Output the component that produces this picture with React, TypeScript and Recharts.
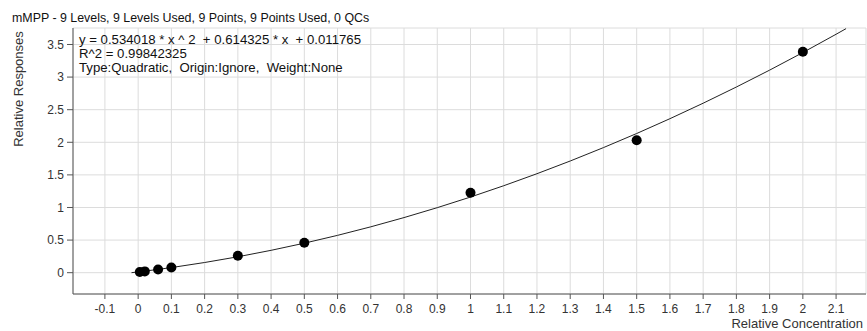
import { ComposedChart, Line, Scatter, XAxis, YAxis, CartesianGrid, Label } from "recharts"

// calibration levels (relative concentration) and measured relative responses
const levels = [0.005, 0.02, 0.06, 0.1, 0.3, 0.5, 1, 1.5, 2]
const responses = [0.01, 0.02, 0.05, 0.08, 0.26, 0.46, 1.225, 2.03, 3.39]

// quadratic fit curve
const curveX = [-0.02, 0, 0.1, 0.2, 0.3, 0.4, 0.5, 0.6, 0.7, 0.8, 0.9, 1, 1.1, 1.2, 1.3, 1.4, 1.5, 1.6, 1.7, 1.8, 1.9, 2, 2.1, 2.13]
const curveY = [0, 0.0118, 0.0785, 0.156, 0.2441, 0.3429, 0.4524, 0.5726, 0.7035, 0.845, 0.9972, 1.1601, 1.3337, 1.518, 1.7129, 1.9185, 2.1348, 2.3618, 2.5994, 2.8478, 3.1068, 3.3765, 3.6569, 3.7431]

const xTicks = [-0.1, 0, 0.1, 0.2, 0.3, 0.4, 0.5, 0.6, 0.7, 0.8, 0.9, 1, 1.1, 1.2, 1.3, 1.4, 1.5, 1.6, 1.7, 1.8, 1.9, 2, 2.1]
const yTicks = [0, 0.5, 1, 1.5, 2, 2.5, 3, 3.5]

const title = "mMPP - 9 Levels, 9 Levels Used, 9 Points, 9 Points Used, 0 QCs"
const fitInfo = [
  "y = 0.534018 * x ^ 2  + 0.614325 * x  + 0.011765",
  "R^2 = 0.99842325",
  "Type:Quadratic,  Origin:Ignore,  Weight:None",
]

const points = levels.map((x, i) => ({ x, y: responses[i] }))
const curve = curveX.map((x, i) => ({ x, y: curveY[i] }))

const FONT = "'Liberation Sans', Arial, sans-serif"
const tickStyle = { fontSize: 12, fill: "#333", fontFamily: FONT }

export default function App() {
  return (
    <div style={{ position: "absolute", left: 0, top: 0, width: 867, height: 331, background: "#fff", fontFamily: FONT }}>
      <div style={{ position: "absolute", left: 12, top: 11, fontSize: 12.4, color: "#111", whiteSpace: "pre" }}>{title}</div>
      <ComposedChart width={867} height={331} margin={{ top: 28, right: 1, bottom: 0, left: 0 }}>
        <CartesianGrid stroke="#dcdcdc" />
        <XAxis
          type="number"
          dataKey="x"
          domain={[-0.196, 2.19]}
          ticks={xTicks}
          allowDataOverflow
          height={37}
          tickSize={5}
          tickMargin={5}
          stroke="#555"
          tick={tickStyle}
          tickFormatter={(v: number) => String(Math.round(v * 10) / 10)}
        >
          <Label
            content={() => (
              <text x={863} y={328} textAnchor="end" fontSize={13} fill="#333" fontFamily={FONT}>
                Relative Concentration
              </text>
            )}
          />
        </XAxis>
        <YAxis
          type="number"
          dataKey="y"
          domain={[-0.327, 3.753]}
          ticks={yTicks}
          allowDataOverflow
          width={73}
          tickSize={6}
          tickMargin={3}
          stroke="#555"
          tick={tickStyle}
        >
          <Label
            content={() => (
              <text x={23} y={89} transform="rotate(-90 23 89)" textAnchor="middle" fontSize={13} fill="#333" fontFamily={FONT}>
                Relative Responses
              </text>
            )}
          />
        </YAxis>
        <Line
          data={curve}
          dataKey="y"
          type="monotone"
          stroke="#222"
          strokeWidth={1}
          dot={false}
          activeDot={false}
          isAnimationActive={false}
        />
        <Scatter data={points} dataKey="y" fill="#000" shape={(p: any) => <circle cx={p.cx} cy={p.cy} r={5} fill="#000" />} isAnimationActive={false} />
      </ComposedChart>
      <div style={{ position: "absolute", left: 79, top: 33, fontSize: 13.2, lineHeight: "14px", color: "#111", whiteSpace: "pre" }}>
        {fitInfo.map((t) => (
          <div key={t}>{t}</div>
        ))}
      </div>
    </div>
  )
}
